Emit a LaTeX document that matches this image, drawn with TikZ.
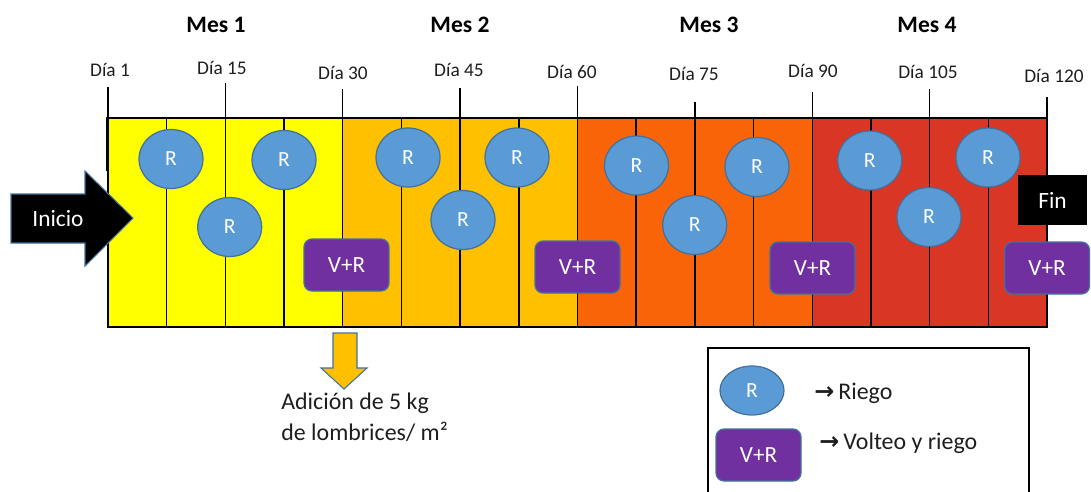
\documentclass[tikz,border=0pt]{standalone}
\usepackage{fontspec}
\setmainfont{Carlito}
\newfontfamily\arrowfont{DejaVu Sans}
\usetikzlibrary{shapes.geometric}
\definecolor{cA}{HTML}{FFFF00}
\definecolor{cB}{HTML}{FFC000}
\definecolor{cC}{HTML}{FA6409}
\definecolor{cD}{HTML}{D93625}
\definecolor{rfill}{HTML}{5B9BD5}
\definecolor{rdraw}{HTML}{41719C}
\definecolor{vfill}{HTML}{7030A0}
\definecolor{txt}{HTML}{1E1E1E}
\tikzset{
  rnode/.style={ellipse, draw=rdraw, fill=rfill, line width=0.7pt, minimum width=1.28cm, minimum height=1.18cm, inner sep=0pt, text=white, font=\fontsize{12.3}{14}\selectfont},
  vrbox/.style={rectangle, rounded corners=0.16cm, draw=rdraw, fill=vfill, line width=0.7pt, minimum width=1.7cm, minimum height=1.04cm, inner sep=0pt, text=white, font=\fontsize{13.2}{15}\selectfont},
  daylbl/.style={text=txt, inner sep=0pt, font=\fontsize{11}{13}\selectfont},
  meslbl/.style={text=black, inner sep=0pt, font=\bfseries\fontsize{13.4}{15}\selectfont},
  gridline/.style={black, line width=0.8pt},
  ticklin/.style={black, line width=0.8pt},
  bigtxt/.style={text=txt, inner sep=0pt, font=\fontsize{13.6}{17.6}\selectfont},
}
\begin{document}
\begin{tikzpicture}[x=0.02cm,y=-0.02cm]
\useasboundingbox (0,0) rectangle (1091,491);
% coloured band
\fill[cA] (108,118) rectangle ({108+4*58.6875},327);
\fill[cB] ({108+4*58.6875},118) rectangle ({108+8*58.6875},327);
\fill[cC] ({108+8*58.6875},118) rectangle ({108+12*58.6875},327);
\fill[cD] ({108+12*58.6875},118) rectangle (1047,327);
\foreach \k in {1,...,15}{
  \draw[gridline] ({108+\k*58.6875},118) -- ({108+\k*58.6875},327);
}
\node[draw=black, line width=1pt, minimum width=18.78cm, minimum height=4.18cm, inner sep=0pt] (band) at (577.5,222.5) {};
\draw[black, line width=1.6pt] (band.north west) -- ++(0,54);
% day ticks and labels
\foreach \k/\top/\lx/\ly/\d in {0/87/110/70/1, 2/83/222/68/15, 4/89/343/73/30, 6/88/459/70/45, 8/86/572/72/60, 10/102/694/74/75, 12/92/813/71/90, 14/89/928/72/105, 16/97/1054/76/120}{
  \node[daylbl] (d\k) at (\lx,\ly) {Día \d};
  \coordinate (t\k) at ({108+\k*58.6875},\top);
  \coordinate (b\k) at ({108+\k*58.6875},118);
  \draw[ticklin] (t\k) -- (b\k);
}
% month labels
\node[meslbl] (m1) at (216,25) {Mes 1};
\node[meslbl] (m2) at (460,25) {Mes 2};
\node[meslbl] (m3) at (709,25) {Mes 3};
\node[meslbl] (m4) at (927,25) {Mes 4};
% R circles
\foreach \n/\cx/\cy in {1/171/159, 2/229.7/227, 3/284/160, 4/408/157.5, 5/463/220, 6/517/157.5, 7/636.5/165.5, 8/694.7/225, 9/757/167, 10/869.7/160.5, 11/929/217, 12/988/157.5}{
  \node[rnode] (r\n) at (\cx,\cy) {R};
}
% V+R boxes
\node[vrbox] (v1) at (346.5,265) {V+R};
\node[vrbox] (v2) at (577.5,267) {V+R};
\node[vrbox] (v3) at (812.5,268) {V+R};
\node[vrbox] (v4) at (1047,268) {V+R};
% Fin
\node[fill=black, minimum width=1.38cm, minimum height=1.0cm, inner sep=0pt, text=white, font=\fontsize{13.3}{15}\selectfont] (fin) at (1052.5,200) {Fin};
% Inicio arrow
\filldraw[fill=black, draw=rdraw, line width=0.6pt] (11,194) -- (85,194) -- (85,171) -- (133,218) -- (85,266) -- (85,243) -- (11,243) -- cycle;
\node[text=white, inner sep=0pt, font=\fontsize{13.3}{15}\selectfont] (inicio) at (58,219) {Inicio};
% down arrow
\filldraw[fill=cB, draw=rdraw, line width=0.6pt] (333,333) -- (357,333) -- (357,368) -- (367,368) -- (344,389) -- (321,368) -- (333,368) -- cycle;
\node[bigtxt, anchor=west, align=left] (adic) at (281,417.5) {Adición de 5 kg\\de lombrices/ m²};
% legend
\draw[black, line width=0.8pt] (708,493) -- (708,348) -- (1029,348) -- (1029,493);
\node[rnode, minimum height=0.98cm] (lr) at (752,390.5) {R};
\node[bigtxt, anchor=west] (lrt) at (814,393) {{\arrowfont\bfseries →}\,Riego};
\node[vrbox] (lv) at (758.5,455) {V+R};
\node[bigtxt, anchor=west] (lvt) at (819,443) {{\arrowfont\bfseries →}\,Volteo y riego};
\end{tikzpicture}
\end{document}
